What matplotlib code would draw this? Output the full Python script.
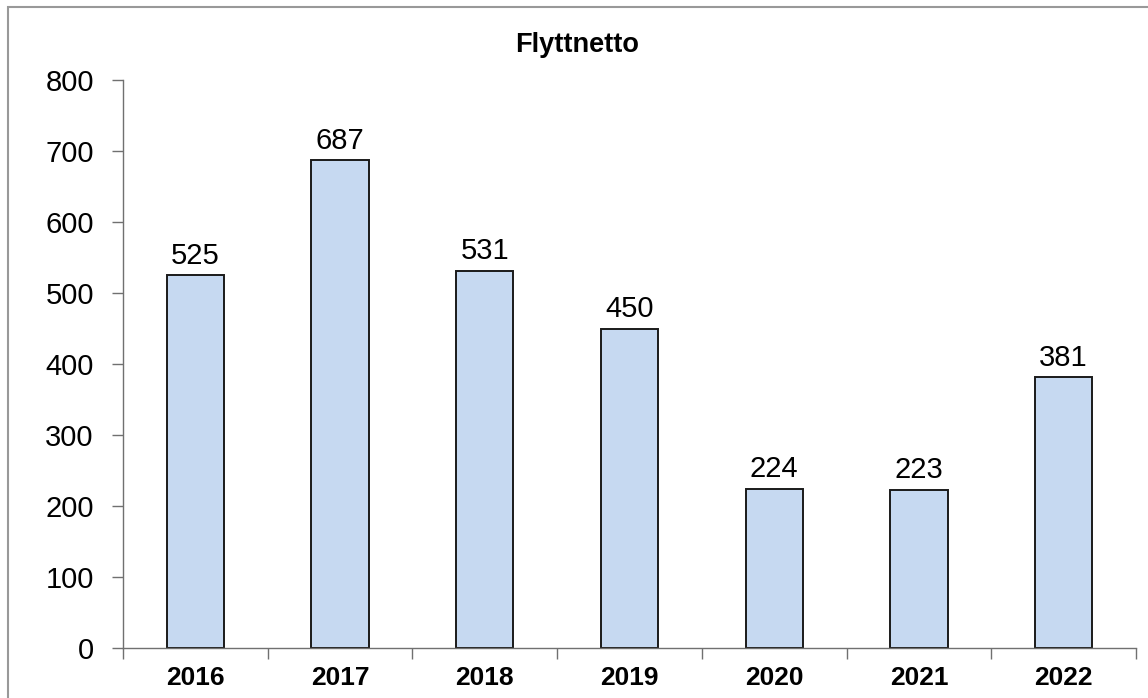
import matplotlib.pyplot as plt
from matplotlib.patches import Rectangle
from matplotlib.ticker import FixedLocator

plt.rcParams["font.family"] = ["Liberation Sans", "DejaVu Sans"]

# Flyttnetto per år
years = ["2016", "2017", "2018", "2019", "2020", "2021", "2022"]
values = [525, 687, 531, 450, 224, 223, 381]
y_ticks = [0, 100, 200, 300, 400, 500, 600, 700, 800]

W, H = 1148, 698
fig = plt.figure(figsize=(W / 100, H / 100), dpi=100)
ax = fig.add_axes([123 / W, 1 - 648 / H, (1136 - 123) / W, (648 - 80) / H])

x = range(len(years))
bars = ax.bar(x, values, width=0.395, color="#C6D9F1", edgecolor="#1a1a1a", linewidth=1.4)
for b, v in zip(bars, values):
    ax.annotate(str(v), (b.get_x() + b.get_width() / 2, v), xytext=(0, 4),
                textcoords="offset points", ha="center", va="bottom", fontsize=21)

ax.set_xlim(-0.5, len(years) - 0.5)
ax.set_ylim(0, 800)
ax.set_yticks(y_ticks)
ax.tick_params(axis="y", labelsize=21, length=8, width=1, color="#707070", pad=13)
ax.set_xticks(list(x))
ax.set_xticklabels(years, fontsize=19, fontweight="bold")
ax.tick_params(axis="x", which="major", length=0, pad=13)
ax.xaxis.set_minor_locator(FixedLocator([i - 0.5 for i in range(len(years) + 1)]))
ax.tick_params(axis="x", which="minor", length=8, width=1, color="#707070")

for side in ["top", "right"]:
    ax.spines[side].set_visible(False)
for side in ["left", "bottom"]:
    ax.spines[side].set_color("#707070")
    ax.spines[side].set_linewidth(1)

fig.text(0.503, 1 - 45 / H, "Flyttnetto", ha="center", va="center",
         fontsize=19.5, fontweight="bold")

# ram runt diagrammet
fig.patches.append(Rectangle((8 / W, -0.1), 1.2, 1 - 7 / H + 0.1, transform=fig.transFigure,
                             fill=False, edgecolor="#999999", linewidth=1.5))

fig.savefig("out.png", dpi=100)
